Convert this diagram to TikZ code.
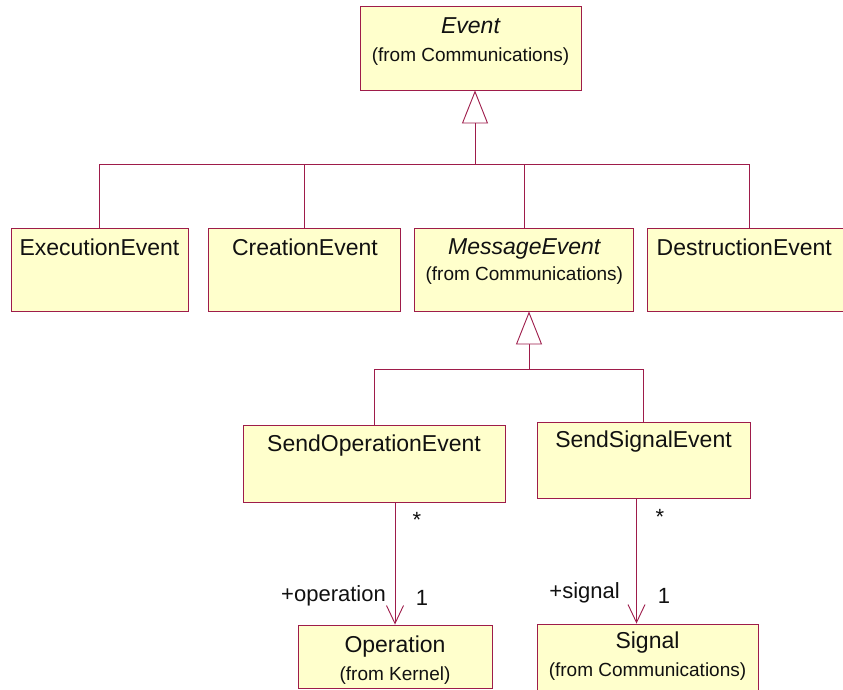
\documentclass[tikz,border=0pt]{standalone}
\usepackage{fontspec}
\setmainfont{Liberation Sans}
\usetikzlibrary{arrows.meta,positioning}
\definecolor{roseline}{HTML}{9E1C4A}
\definecolor{roseyellow}{HTML}{FFFFCC}
\definecolor{ink}{HTML}{111111}

\begin{document}
\begin{tikzpicture}[
  x=1pt,y=-1pt,
  cls/.style={draw=roseline,fill=roseyellow,line width=.9pt,inner sep=0pt},
  clsname/.style={anchor=base,text=ink,font=\fontsize{23}{27}\selectfont},
  clsabs/.style={clsname,font=\fontsize{23}{27}\selectfont\itshape},
  clsfrom/.style={anchor=base,text=ink,font=\fontsize{19}{23}\selectfont},
  link/.style={draw=roseline,line width=.9pt},
  gen/.style={link,-{Triangle[length=33pt,width=26pt,fill=white]}},
  assoc/.style={link,-{Straight Barb[length=18pt,width=17pt,line width=.9pt]}},
  mult/.style={text=ink,font=\fontsize{22}{26}\selectfont,inner sep=0pt}
]
  \clip (0,0) rectangle (843,690);
  \fill[white] (0,0) rectangle (843,690);

  % classes
  \node[cls,minimum width=221pt,minimum height=84pt] (event) at (470.5,48) {};
  \node[cls,minimum width=177pt,minimum height=83pt] (exec) at (99.5,269.5) {};
  \node[cls,minimum width=192pt,minimum height=83pt,right=20pt of exec] (creation) {};
  \node[cls,minimum width=219pt,minimum height=83pt,right=13pt of creation] (message) {};
  \node[cls,minimum width=225pt,minimum height=83pt,right=13pt of message] (destruct) {};
  \node[cls,minimum width=262pt,minimum height=77pt] (sendop) at (374,463.5) {};
  \node[cls,minimum width=213pt,minimum height=76pt] (sendsig) at (643.5,460) {};
  \node[cls,minimum width=194pt,minimum height=63pt] (operation) at (395,656.5) {};
  \node[cls,minimum width=221pt,minimum height=72pt] (signal) at (647.5,660) {};

  \node[clsabs] (eventname) at ([yshift=-28pt]event.north) {Event};
  \node[clsfrom] (eventfrom) at ([yshift=-56pt]event.north) {(from Communications)};
  \node[clsname] (execname) at ([xshift=-89pt,yshift=-28pt]exec.north east) {ExecutionEvent};
  \node[clsname] (creationname) at ([yshift=-28pt]creation.north) {CreationEvent};
  \node[clsabs] (messagename) at ([yshift=-27pt]message.north) {MessageEvent};
  \node[clsfrom] (messagefrom) at ([yshift=-53pt]message.north) {(from Communications)};
  \node[clsname] (destructname) at ([xshift=97pt,yshift=-28pt]destruct.north west) {DestructionEvent};
  \node[clsname] (sendopname) at ([yshift=-27pt]sendop.north) {SendOperationEvent};
  \node[clsname] (sendsigname) at ([yshift=-26pt]sendsig.north) {SendSignalEvent};
  \node[clsname] (operationname) at ([yshift=-28pt]operation.north) {Operation};
  \node[clsfrom] (operationfrom) at ([yshift=-56pt]operation.north) {(from Kernel)};
  \node[clsname] (signalname) at ([yshift=-25pt]signal.north) {Signal};
  \node[clsfrom] (signalfrom) at ([yshift=-53pt]signal.north) {(from Communications)};

  % generalization trees
  \coordinate (evjoin) at (475,164);
  \coordinate (msgjoin) at (529,369);
  \draw[link] (exec.north) |- (evjoin);
  \draw[link] ([xshift=102pt]destruct.north west) |- (evjoin);
  \draw[link] (creation.north) -- (creation.north |- evjoin);
  \draw[link] (message.north) -- (message.north |- evjoin);
  \draw[gen] (evjoin) -- (evjoin |- event.south);
  \draw[link] ([xshift=-131pt]sendop.north east) |- (msgjoin);
  \draw[link] (sendsig.north) |- (msgjoin);
  \draw[gen] (msgjoin) -- (msgjoin |- message.south);

  % associations
  \draw[assoc] (operation.north |- sendop.south) -- (operation.north);
  \draw[assoc] ([xshift=-7pt]sendsig.south) -- ([xshift=-7pt]sendsig.south |- signal.north);

  \node[mult] (opstar) at (417,520) {*};
  \node[mult] (opone) at (422,598) {1};
  \node[mult,anchor=base east] (oprole) at (386,601) {+operation};
  \node[mult] (sigstar) at (660,517) {*};
  \node[mult] (sigone) at (664,596) {1};
  \node[mult,anchor=base east] (sigrole) at (620,598) {+signal};
\end{tikzpicture}
\end{document}
